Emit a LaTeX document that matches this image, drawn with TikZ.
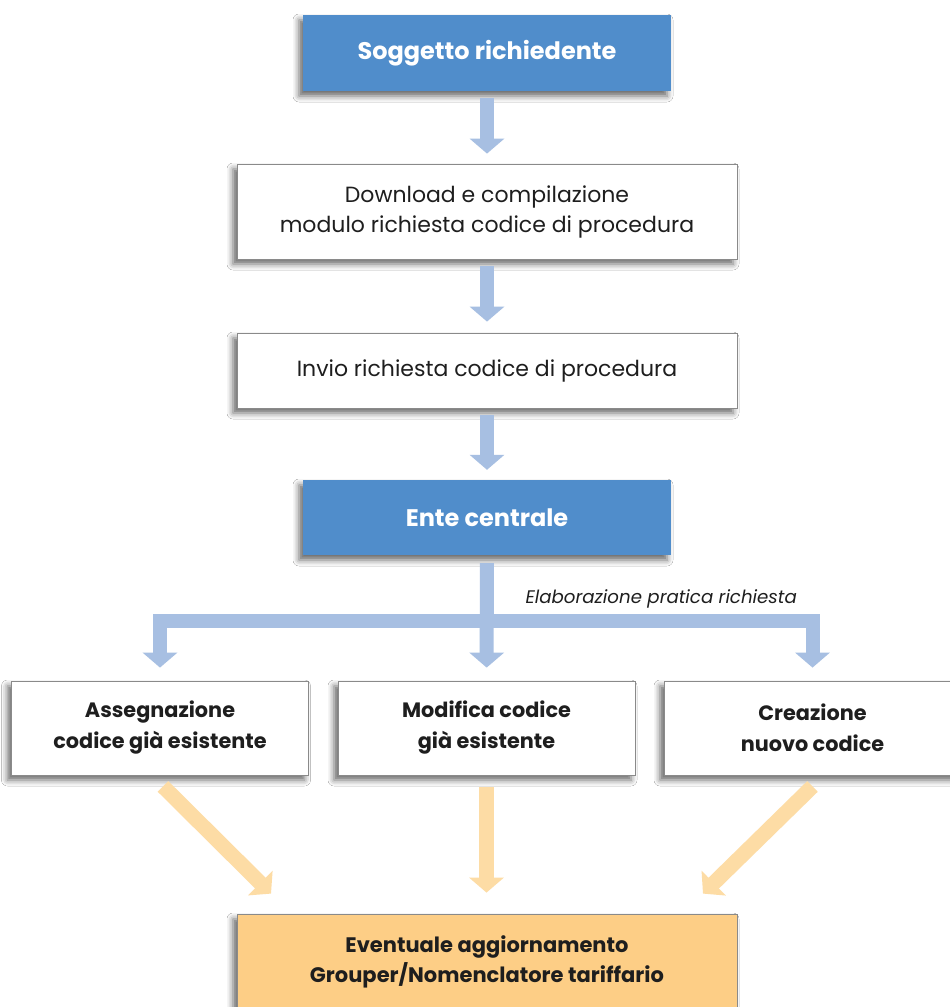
\documentclass[tikz,border=0pt]{standalone}
\usepackage{fontspec}
\setmainfont{Poppins}
\usetikzlibrary{arrows.meta,shadows.blur}
\definecolor{boxblue}{HTML}{508DCB}
\definecolor{arrblue}{HTML}{A7BFE2}
\definecolor{arrorange}{HTML}{FDDCA5}
\definecolor{boxorange}{HTML}{FDCE86}
\definecolor{bordergray}{HTML}{8A8A8A}
\definecolor{txt}{HTML}{1E1E1E}
\tikzset{
  shad/.style={blur shadow={shadow xshift=-4pt,shadow yshift=-5pt,shadow blur radius=6pt,shadow opacity=60}},
  bluebox/.style={shad,fill=boxblue,draw=none,minimum width=368pt,minimum height=76pt,inner sep=0pt,text=white,font=\bfseries\fontsize{24}{28}\selectfont},
  whitebox/.style={shad,fill=white,draw=bordergray,line width=0.8pt,minimum width=500pt,inner sep=0pt,align=center,text=txt,font=\fontsize{22}{30}\selectfont},
  choicebox/.style={shad,fill=white,draw=bordergray,line width=0.8pt,minimum width=297pt,minimum height=94pt,inner sep=0pt,align=center,text=txt,font=\bfseries\fontsize{20.8}{31}\selectfont},
  orangebox/.style={shad,fill=boxorange,draw=bordergray,line width=0.8pt,minimum width=500pt,minimum height=96pt,inner sep=0pt,align=center,text=txt,font=\bfseries\fontsize{21}{30}\selectfont},
  barrow/.style={draw=arrblue,line width=14pt,-{Triangle[width=34pt,length=15pt]}},
  oarrow/.style={draw=arrorange,line width=15pt,-{Triangle[width=34pt,length=15pt]}},
  note/.style={text=txt,font=\itshape\fontsize{18.2}{20}\selectfont}
}
\begin{document}
\begin{tikzpicture}[x=1pt,y=-1pt]
\useasboundingbox[fill=white] (0,0) rectangle (950,1007);
\node[bluebox] (top) at (487,53) {Soggetto richiedente};
\node[whitebox,minimum height=95pt] (dl) at (487,211.5) {Download e compilazione\\modulo richiesta codice di procedura};
\node[whitebox,minimum height=75pt] (inv) at (487,370.5) {Invio richiesta codice di procedura};
\node[bluebox,minimum height=75pt] (ente) at (487,517.5) {Ente centrale};
\node[choicebox] (left) at (160,728) {Assegnazione\\codice già esistente};
\node[choicebox] (mid) at (486.5,728) {Modifica codice\\già esistente};
\node[choicebox] (right) at (812.5,728) {Creazione\\nuovo codice};
\node[orangebox] (bot) at (487,962) {Eventuale aggiornamento\\Grouper/Nomenclatore tariffario};
\node[note,anchor=base west] (lab) at (522,603) {Elaborazione pratica richiesta};
\coordinate (jm) at (487,621);
\draw[barrow,shorten <=7pt,shorten >=10pt] (top) -- (dl);
\draw[barrow,shorten <=7pt,shorten >=11pt] (dl) -- (inv);
\draw[barrow,shorten <=7pt,shorten >=10pt] (inv) -- (ente);
\draw[barrow,shorten <=8pt,shorten >=13pt] (ente) -- (mid);
\draw[barrow,{Triangle[width=34pt,length=15pt]}-{Triangle[width=34pt,length=15pt]},line join=miter,shorten <=13pt,shorten >=13pt] (left) |- (jm) -| (right);
\draw[oarrow] ([shift={(3,11)}]left.south) -- ([shift={(-216,-20)}]bot.north);
\draw[oarrow,shorten <=12pt,shorten >=21pt] (mid) -- (mid |- bot.north);
\draw[oarrow] ([shift={(0,11)}]right.south) -- ([shift={(216,-20)}]bot.north);
\end{tikzpicture}
\end{document}
